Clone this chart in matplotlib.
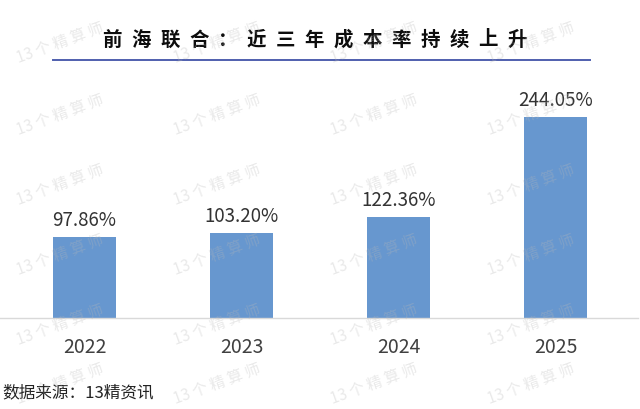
import matplotlib as mpl
mpl.use('Agg')
import matplotlib.pyplot as plt

plt.rcParams['font.family'] = ['Noto Sans CJK SC', 'DejaVu Sans']

years = ['2022', '2023', '2024', '2025']
cost_ratio = [97.86, 103.20, 122.36, 244.05]
labels = ['97.86%', '103.20%', '122.36%', '244.05%']
title = '前海联合：近三年成本率持续上升'
source = '数据来源：13精资讯'
watermark = '13 个 精 算 师'

W, H = 640, 410
fig = plt.figure(figsize=(6.4, 4.1), dpi=100)
fig.patch.set_facecolor('white')

# axes placed in pixel terms: baseline at y=319, top at y=90
ax = fig.add_axes([0, (H - 319) / H, 638 / W, (319 - 90) / H])
x = list(range(len(years)))
ax.bar(x, cost_ratio, width=0.40, color='#6797cf', zorder=2)
ax.set_xlim(-0.538, -0.538 + 638 / 157)
ax.set_ylim(0, 229 / 0.8236)

for xi, v, lab in zip(x, cost_ratio, labels):
    ax.annotate(lab, (xi, v), xytext=(0, 5), textcoords='offset points',
                ha='center', va='bottom', fontsize=13.5, color='#333333')

ax.set_xticks(x)
ax.set_xticklabels(years, fontsize=14, color='#404040')
ax.tick_params(axis='x', length=0, pad=13)
ax.set_yticks([])
for s in ['top', 'right', 'left']:
    ax.spines[s].set_visible(False)
ax.spines['bottom'].set_color('#d9d9d9')
ax.spines['bottom'].set_linewidth(1.0)
ax.patch.set_alpha(0)

# title, letter-spaced
step = (517 - 112) / (len(title) - 1)
for i, ch in enumerate(title):
    fig.text((112 + i * step) / W, 1 - 40 / H, ch, ha='center', va='center',
             fontsize=14, fontweight='heavy', color='#0d0d0d')
fig.add_artist(plt.Line2D([53 / W, 590 / W], [1 - 61 / H, 1 - 61 / H],
                          color='#4f5fae', lw=1.4))

fig.text(2 / W, 1 - 393 / H, source, ha='left', va='center',
         fontsize=12, color='#222222')

# faint watermark grid
for cx in [60, 217, 374, 531]:
    for cy in [43, 115, 185, 255, 325, 384]:
        fig.text(cx / W, 1 - cy / H, watermark, ha='center', va='center',
                 rotation=20, fontsize=11, color='#b8b8b8', alpha=0.3,
                 zorder=10)

fig.savefig('out.png', dpi=100, facecolor='white')
